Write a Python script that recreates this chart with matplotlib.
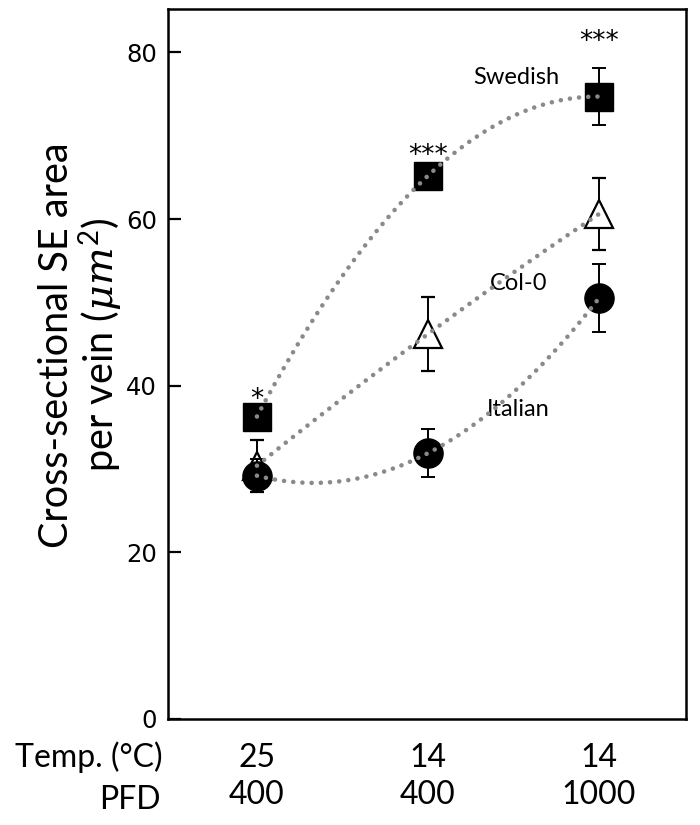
import numpy as np
import matplotlib
matplotlib.use('Agg')
import matplotlib.pyplot as plt

# data
conditions = [0, 1, 2]
temp_labels = ['25', '14', '14']
pfd_labels = ['400', '400', '1000']

swedish = [36.3, 65.2, 74.7]
swedish_err = [1.0, 1.5, 3.4]
col0 = [30.4, 46.2, 60.6]
col0_err = [3.1, 4.4, 4.3]
italian = [29.2, 31.9, 50.5]
italian_err = [2.0, 2.9, 4.1]

signif = ['*', '***', '***']

plt.rcParams['font.family'] = ['Lato', 'DejaVu Sans']
plt.rcParams['mathtext.fontset'] = 'custom'
plt.rcParams['mathtext.rm'] = 'Lato'
plt.rcParams['mathtext.it'] = 'DejaVu Serif:italic'

fig = plt.figure(figsize=(7, 8.25), dpi=100)
ax = fig.add_axes([0.24, 0.1285, 0.74, 0.8605])

# markers with error bars
ax.errorbar(conditions, col0, yerr=col0_err, fmt='^', ms=20, mfc='white', mec='black',
            mew=1.6, ecolor='black', elinewidth=1.4, capsize=5, capthick=1.4, zorder=2)
ax.errorbar(conditions, italian, yerr=italian_err, fmt='o', ms=21, color='black',
            ecolor='black', elinewidth=1.4, capsize=5, capthick=1.4, zorder=3)
ax.errorbar(conditions, swedish, yerr=swedish_err, fmt='s', ms=19.5, color='black',
            ecolor='black', elinewidth=1.4, capsize=5, capthick=1.4, zorder=3)

# 2nd order trend lines drawn on top (as in the original)
xs = np.linspace(0, 2, 200)
for series in (swedish, col0, italian):
    coef = np.polyfit(conditions, series, 2)
    ax.plot(xs, np.polyval(coef, xs), color='#8a8a8a', lw=3.3,
            linestyle=(0, (0.01, 2.0)), dash_capstyle='round', zorder=5)

# series labels
ax.text(1.263, 77.0, 'Swedish', fontsize=17, ha='left', va='center')
ax.text(1.363, 52.3, 'Col-0', fontsize=17, ha='left', va='center')
ax.text(1.345, 37.1, 'Italian', fontsize=17, ha='left', va='center')

# significance marks
sig_y = [38.3, 67.6, 81.2]
for x, s, y in zip(conditions, signif, sig_y):
    ax.text(x, y, s, fontsize=19, ha='center', va='center', family='DejaVu Sans')

ax.set_xlim(-0.52, 2.509)
ax.set_ylim(0, 85.2)
ax.set_yticks([0, 20, 40, 60, 80])
ax.set_xticks([])
ax.tick_params(axis='y', direction='in', length=9, width=1.6, labelsize=17.5, pad=8)
for lab in ax.get_yticklabels():
    lab.set_family('DejaVu Sans')
for sp in ax.spines.values():
    sp.set_linewidth(1.8)

ax.set_ylabel('Cross-sectional SE area\nper vein ($\\mathit{\\mu m}^2$)', fontsize=28.5,
              linespacing=1.05, va='center')
ax.yaxis.set_label_coords(-0.168, 0.527)

# two-row category labels under the axis
trans = ax.get_xaxis_transform()
for x, t, p in zip(conditions, temp_labels, pfd_labels):
    ax.text(x, -0.055, t, transform=trans, fontsize=23, ha='center', va='center')
    ax.text(x, -0.107, p, transform=trans, fontsize=23, ha='center', va='center')
fig.text(0.232, 0.0824, 'Temp. (°C)', fontsize=23, ha='right', va='center')
fig.text(0.229, 0.0303, 'PFD', fontsize=23, ha='right', va='center')

fig.savefig('out.png', dpi=100)
